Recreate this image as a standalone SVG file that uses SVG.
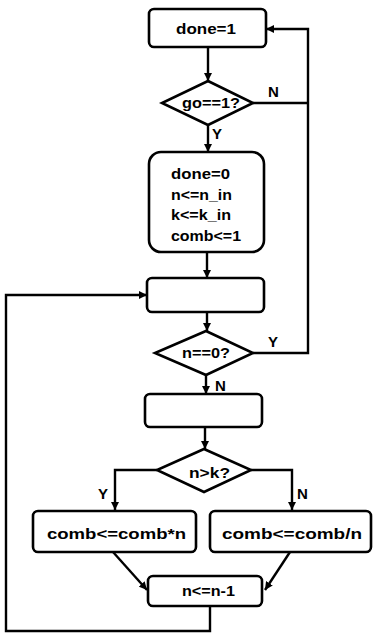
<svg xmlns="http://www.w3.org/2000/svg" width="374" height="637" viewBox="0 0 374 637">
<defs>
<marker id="ah" viewBox="0 0 10 10" refX="10" refY="5" markerWidth="8" markerHeight="8" markerUnits="userSpaceOnUse" orient="auto">
<path d="M0,0 L10,5 L0,10 Z" fill="#000"/>
</marker>
</defs>
<style>
.box{fill:#fff;stroke:#000;stroke-width:2.6}
.ln{fill:none;stroke:#000;stroke-width:2.4}
.arr{fill:none;stroke:#000;stroke-width:2.4;marker-end:url(#ah)}
.t{font-family:"Liberation Sans",Arial,sans-serif;font-weight:bold;font-size:15.5px;fill:#000}
.lb{font-family:"Liberation Sans",Arial,sans-serif;font-weight:bold;font-size:15px;fill:#000}
</style>
<rect width="374" height="637" fill="#fff"/>
<g id="connectors">
<path class="arr" d="M208,47 V81"/>
<path class="arr" d="M208,125 V152"/>
<path class="ln" d="M253,103 H309"/>
<path class="arr" d="M253,353 H308 V29 H266"/>
<path class="arr" d="M207,252 V278"/>
<path class="arr" d="M210,606 V631 H6 V295 H147"/>
<path class="arr" d="M207,312 V331"/>
<path class="arr" d="M206,375 V394"/>
<path class="arr" d="M205,427 V449"/>
<path class="arr" d="M157,470 H115 V510"/>
<path class="arr" d="M251,470 H292 V510"/>
<path class="arr" d="M113,552 L147,590"/>
<path class="arr" d="M290,552 L265,590"/>
<text class="lb" x="268" y="97">N</text>
<text class="lb" x="212" y="139">Y</text>
<text class="lb" x="268" y="347">Y</text>
<text class="lb" x="215" y="391">N</text>
<text class="lb" x="98" y="499">Y</text>
<text class="lb" x="297" y="499">N</text>
</g>
<g id="n-done1">
<rect class="box" x="149" y="9" width="117" height="38" rx="5"/>
<text class="t" x="176" y="34" textLength="60" lengthAdjust="spacingAndGlyphs">done=1</text>
</g>
<g id="n-go">
<polygon class="box" points="208,81 253,103 208,125 162,103"/>
<text class="t" x="182" y="108" textLength="58" lengthAdjust="spacingAndGlyphs">go==1?</text>
</g>
<g id="n-init">
<rect class="box" x="149" y="152" width="115" height="100" rx="12"/>
<text class="t" x="171" y="179" textLength="59" lengthAdjust="spacingAndGlyphs">done=0</text>
<text class="t" x="171" y="200" textLength="61" lengthAdjust="spacingAndGlyphs">n&lt;=n_in</text>
<text class="t" x="171" y="220" textLength="60" lengthAdjust="spacingAndGlyphs">k&lt;=k_in</text>
<text class="t" x="171" y="241" textLength="70" lengthAdjust="spacingAndGlyphs">comb&lt;=1</text>
</g>
<g id="n-empty1">
<rect class="box" x="147" y="278" width="117" height="34" rx="5"/>
</g>
<g id="n-nzero">
<polygon class="box" points="206,331 253,353 206,375 155,353"/>
<text class="t" x="182" y="358" textLength="48" lengthAdjust="spacingAndGlyphs">n==0?</text>
</g>
<g id="n-empty2">
<rect class="box" x="145" y="394" width="117" height="33" rx="5"/>
</g>
<g id="n-ngtk">
<polygon class="box" points="204,449 251,470 204,492 157,470"/>
<text class="t" x="189" y="478" textLength="41" lengthAdjust="spacingAndGlyphs">n&gt;k?</text>
</g>
<g id="n-mul">
<rect class="box" x="33" y="511" width="163" height="41" rx="5"/>
<text class="t" x="47" y="539" textLength="139" lengthAdjust="spacingAndGlyphs">comb&lt;=comb*n</text>
</g>
<g id="n-div">
<rect class="box" x="210" y="511" width="161" height="41" rx="5"/>
<text class="t" x="222" y="539" textLength="140" lengthAdjust="spacingAndGlyphs">comb&lt;=comb/n</text>
</g>
<g id="n-dec">
<rect class="box" x="148" y="576" width="114" height="30" rx="5"/>
<text class="t" x="182" y="596" textLength="53" lengthAdjust="spacingAndGlyphs">n&lt;=n-1</text>
</g>
</svg>
